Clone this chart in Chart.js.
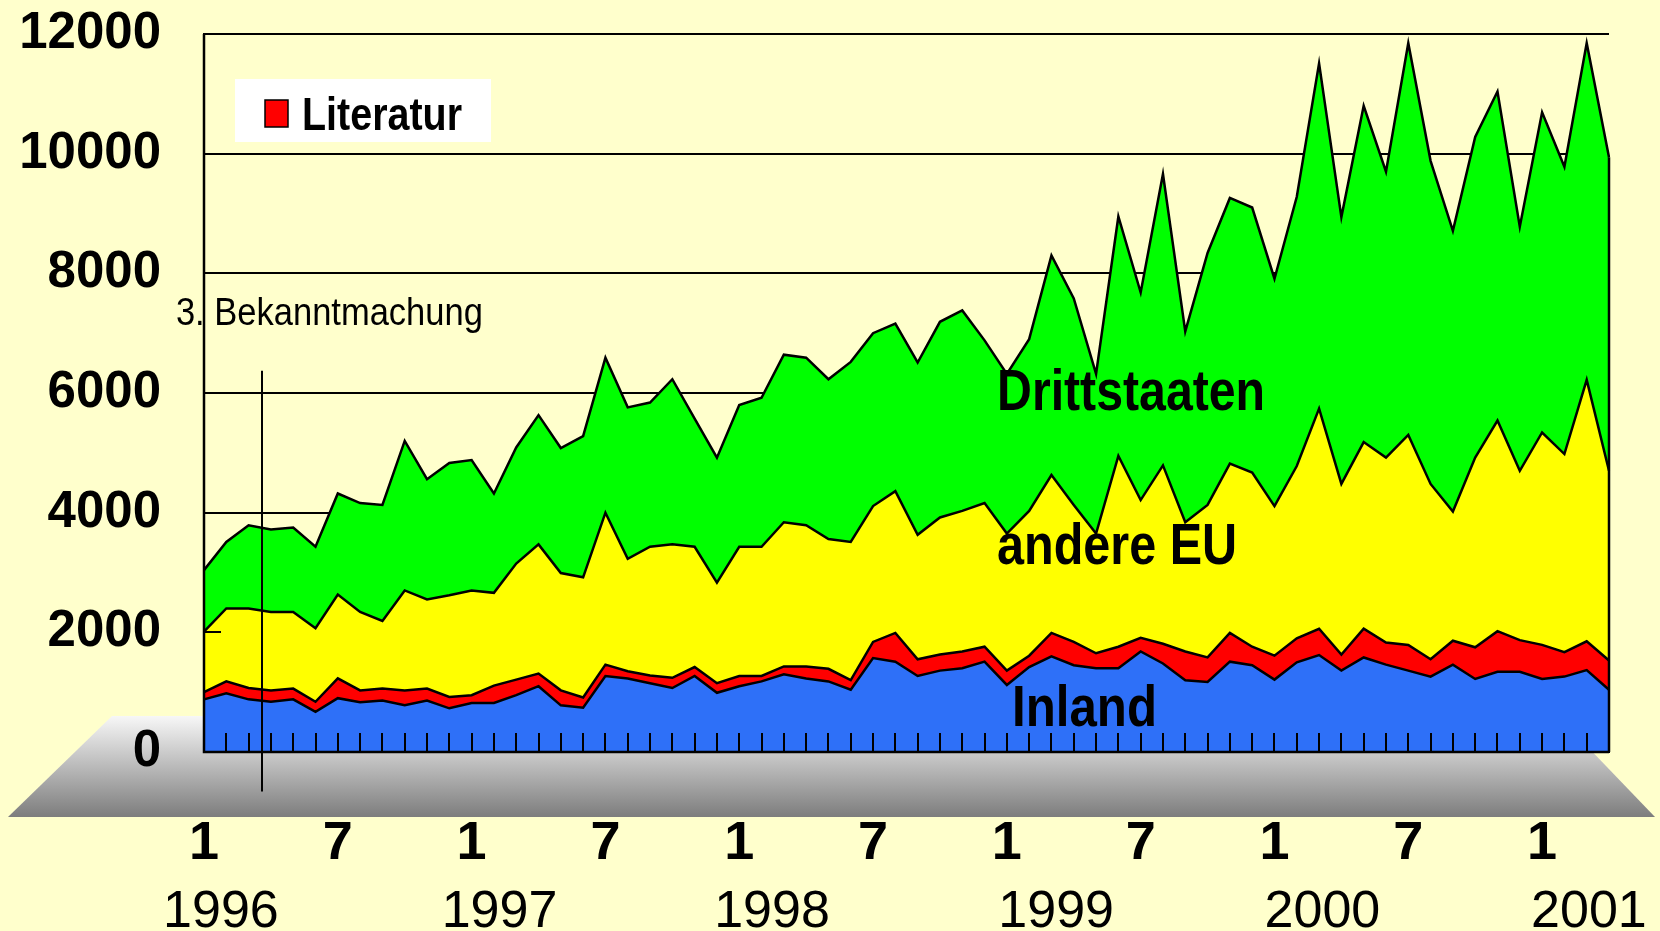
<!DOCTYPE html>
<html lang="de">
<head>
<meta charset="utf-8">
<title>Anmeldungen 1996 - 2001</title>
<script src="https://cdn.jsdelivr.net/npm/chart.js@4.4.1/dist/chart.umd.min.js"></script>
<style>
  html, body { margin: 0; padding: 0; background: #ffffcc; }
  #chart { display: block; }
</style>
</head>
<body>
<canvas id="chart" width="1660" height="931"></canvas>
<script>
// Monate Jan 1996 - Apr 2001
const months = [
  "1/1996", "2/1996", "3/1996", "4/1996", "5/1996", "6/1996", "7/1996", "8/1996", "9/1996", "10/1996", "11/1996", "12/1996",
  "1/1997", "2/1997", "3/1997", "4/1997", "5/1997", "6/1997", "7/1997", "8/1997", "9/1997", "10/1997", "11/1997", "12/1997",
  "1/1998", "2/1998", "3/1998", "4/1998", "5/1998", "6/1998", "7/1998", "8/1998", "9/1998", "10/1998", "11/1998", "12/1998",
  "1/1999", "2/1999", "3/1999", "4/1999", "5/1999", "6/1999", "7/1999", "8/1999", "9/1999", "10/1999", "11/1999", "12/1999",
  "1/2000", "2/2000", "3/2000", "4/2000", "5/2000", "6/2000", "7/2000", "8/2000", "9/2000", "10/2000", "11/2000", "12/2000",
  "1/2001", "2/2001", "3/2001", "4/2001",
];

const inland = [
  880, 980, 880, 840, 880, 670, 900, 830, 860, 780, 860, 730,
  820, 820, 950, 1100, 780, 740, 1270, 1230, 1150, 1070, 1270, 990,
  1100, 1180, 1300, 1230, 1180, 1040, 1570, 1510, 1270, 1360, 1400, 1510,
  1120, 1420, 1600, 1450, 1400, 1400, 1680, 1480, 1200, 1170, 1510, 1450,
  1210, 1500, 1620, 1360, 1580, 1460, 1360, 1260, 1460, 1220, 1340, 1340,
  1220, 1260, 1370, 1040,
];
const literatur = [
  120, 200, 190, 190, 180, 170, 330, 200, 200, 250, 200, 190,
  130, 290, 260, 210, 250, 170, 190, 120, 130, 170, 150, 160,
  170, 90, 130, 200, 210, 160, 270, 480, 280, 270, 280, 250,
  240, 190, 390, 390, 250, 360, 230, 330, 480, 410, 480, 310,
  400, 400, 440, 270, 480, 370, 430, 290, 400, 530, 680, 530,
  570, 410, 480, 490,
];
const andereEU = [
  1010, 1220, 1330, 1310, 1280, 1230, 1400, 1310, 1130, 1670, 1490, 1700,
  1750, 1550, 1940, 2160, 1960, 2010, 2540, 1880, 2150, 2230, 2010, 1680,
  2160, 2160, 2410, 2360, 2170, 2310, 2270, 2370, 2080, 2290, 2350, 2400,
  2290, 2420, 2640, 2290, 2000, 3190, 2300, 2980, 2160, 2550, 2830, 2910,
  2500, 2880, 3680, 2850, 3120, 3090, 3510, 2930, 2160, 3170, 3520, 2830,
  3550, 3310, 4370, 3170,
];
const drittstaaten = [
  1030, 1110, 1390, 1380, 1410, 1360, 1690, 1820, 1940, 2500, 2010, 2210,
  2180, 1660, 1940, 2160, 2090, 2360, 2590, 2530, 2410, 2760, 2140, 2090,
  2370, 2490, 2800, 2800, 2670, 3010, 2890, 2800, 2880, 3270, 3350, 2720,
  2670, 2870, 3670, 3450, 2670, 4000, 3470, 4870, 3190, 4210, 4440, 4430,
  3800, 4500, 5770, 4460, 5620, 4780, 6550, 5400, 4690, 5360, 5500, 4080,
  5350, 4800, 5630, 5240,
];

const seriesNames = ["Inland", "Literatur", "andere EU", "Drittstaaten"];
const yMax = 12000;
const yStep = 2000;
const tickMonths = ["1", "7"];
const yearLabels = ["1996", "1997", "1998", "1999", "2000", "2001"];
const yearAt = [0.76, 13.25, 25.47, 38.21, 50.15, 62.1];
const markerAt = 2.6; // 3. Bekanntmachung

const sans = "'Liberation Sans', Arial, sans-serif";
const colors = ["#2e70f8", "#ff0000", "#ffff00", "#00ff00"];

// Beschriftungen in den Flächen (Index, Wert der Grundlinie, max. Breite)
const areaText = [
  { text: "Drittstaaten", at: 35.56, value: 5714, w: 268 },
  { text: "andere EU", at: 35.56, value: 3139, w: 240 },
  { text: "Inland", at: 36.23, value: 430, w: 145 },
];

const decor = {
  id: "decor",
  beforeDraw(chart) {
    const { ctx, chartArea: a } = chart;
    ctx.save();
    ctx.fillStyle = "#ffffcc";
    ctx.fillRect(0, 0, chart.width, chart.height);
    // grauer "Boden" unter dem Diagramm
    const top = a.bottom - 36;
    const bot = a.bottom + 65;
    const g = ctx.createLinearGradient(0, top, 0, bot);
    g.addColorStop(0, "#f7f7f7");
    g.addColorStop(1, "#7d7d7d");
    ctx.fillStyle = g;
    ctx.beginPath();
    ctx.moveTo(112, top);
    ctx.lineTo(1558, top);
    ctx.lineTo(1655, bot);
    ctx.lineTo(8, bot);
    ctx.closePath();
    ctx.fill();
    ctx.restore();
  },
  afterDatasetsDraw(chart) {
    const { ctx, chartArea: a } = chart;
    const x = chart.scales.x;
    const y = chart.scales.y;
    ctx.save();
    ctx.strokeStyle = "#000";
    ctx.lineWidth = 2;
    ctx.beginPath();
    // Monatsstriche
    for (let i = 1; i < months.length - 1; i++) {
      const px = Math.round(x.getPixelForValue(i));
      ctx.moveTo(px, a.bottom);
      ctx.lineTo(px, a.bottom - 19);
    }
    // Striche an der y-Achse
    for (let v = 0; v <= yMax; v += yStep) {
      const py = Math.round(y.getPixelForValue(v));
      ctx.moveTo(a.left, py);
      ctx.lineTo(a.left + 17, py);
    }
    ctx.stroke();

    // Achsen
    ctx.lineWidth = 2.5;
    ctx.beginPath();
    ctx.moveTo(a.left, y.getPixelForValue(yMax));
    ctx.lineTo(a.left, a.bottom);
    ctx.lineTo(a.right, a.bottom);
    const last = months.length - 1;
    const total = inland[last] + literatur[last] + andereEU[last] + drittstaaten[last];
    ctx.moveTo(a.right, a.bottom);
    ctx.lineTo(a.right, y.getPixelForValue(total));
    ctx.stroke();

    // 3. Bekanntmachung
    ctx.lineWidth = 2;
    ctx.beginPath();
    const mx = Math.round(x.getPixelForValue(markerAt));
    ctx.moveTo(mx, y.getPixelForValue(6370));
    ctx.lineTo(mx, y.getPixelForValue(-660));
    ctx.stroke();
    ctx.restore();
  },
  afterDraw(chart) {
    const { ctx, chartArea: a } = chart;
    const x = chart.scales.x;
    const y = chart.scales.y;
    ctx.save();
    ctx.fillStyle = "#000";
    ctx.textBaseline = "alphabetic";

    ctx.font = `bold 58px ${sans}`;
    ctx.textAlign = "left";
    areaText.forEach((t) => {
      ctx.fillText(t.text, x.getPixelForValue(t.at), y.getPixelForValue(t.value), t.w);
    });

    ctx.font = `38px ${sans}`;
    ctx.fillText("3. Bekanntmachung", x.getPixelForValue(-1.26), y.getPixelForValue(7135), 307);

    // Legende (nur Literatur)
    const lx = a.left + 31;
    const ly = a.top + 45;
    ctx.fillStyle = "#ffffff";
    ctx.fillRect(lx, ly, 256, 63);
    ctx.fillStyle = colors[1];
    ctx.fillRect(lx + 30, ly + 21, 23, 27);
    ctx.strokeStyle = "#000";
    ctx.lineWidth = 1.5;
    ctx.strokeRect(lx + 30, ly + 21, 23, 27);
    ctx.fillStyle = "#000";
    ctx.font = `bold 46px ${sans}`;
    ctx.fillText(seriesNames[1], lx + 67, ly + 51, 160);

    // Jahre
    ctx.font = `52px ${sans}`;
    ctx.textAlign = "center";
    yearLabels.forEach((yr, i) => {
      ctx.fillText(yr, x.getPixelForValue(yearAt[i]), a.bottom + 175);
    });
    ctx.restore();
  },
};

const seriesData = [inland, literatur, andereEU, drittstaaten];

new Chart(document.getElementById("chart"), {
  type: "line",
  data: {
    labels: months,
    datasets: seriesData.map((d, i) => ({
      label: seriesNames[i],
      data: d,
      backgroundColor: colors[i],
      borderColor: "#000",
      borderWidth: 2.5,
      pointRadius: 0,
      tension: 0,
      fill: i === 0 ? "origin" : "-1",
    })),
  },
  options: {
    responsive: false,
    animation: false,
    layout: { padding: { top: 34, right: 51, left: 0, bottom: 0 } },
    plugins: {
      legend: { display: false },
      tooltip: { enabled: false },
    },
    scales: {
      x: {
        offset: false,
        grid: { display: false },
        border: { display: true, color: "#000", width: 2 },
        ticks: {
          autoSkip: false,
          maxRotation: 0,
          minRotation: 0,
          padding: 52,
          color: "#000",
          font: { family: sans, size: 54, weight: "bold" },
          callback: (val, i) => {
            const m = months[i].split("/")[0];
            return tickMonths.includes(m) ? m : "";
          },
        },
        afterFit: (s) => {
          s.height = 179;
          s.paddingLeft = 0;
          s.paddingRight = 0;
        },
      },
      y: {
        stacked: true,
        min: 0,
        max: yMax,
        grid: { color: "#000", lineWidth: 2, drawTicks: false },
        border: { display: true, color: "#000", width: 2 },
        ticks: {
          stepSize: yStep,
          padding: 43,
          color: "#000",
          font: { family: sans, size: 51, weight: "bold" },
          callback: (v) => String(v),
        },
        afterFit: (s) => {
          s.width = 204;
          s.paddingTop = 0;
          s.paddingBottom = 0;
        },
      },
    },
  },
  plugins: [decor],
});
</script>
</body>
</html>
